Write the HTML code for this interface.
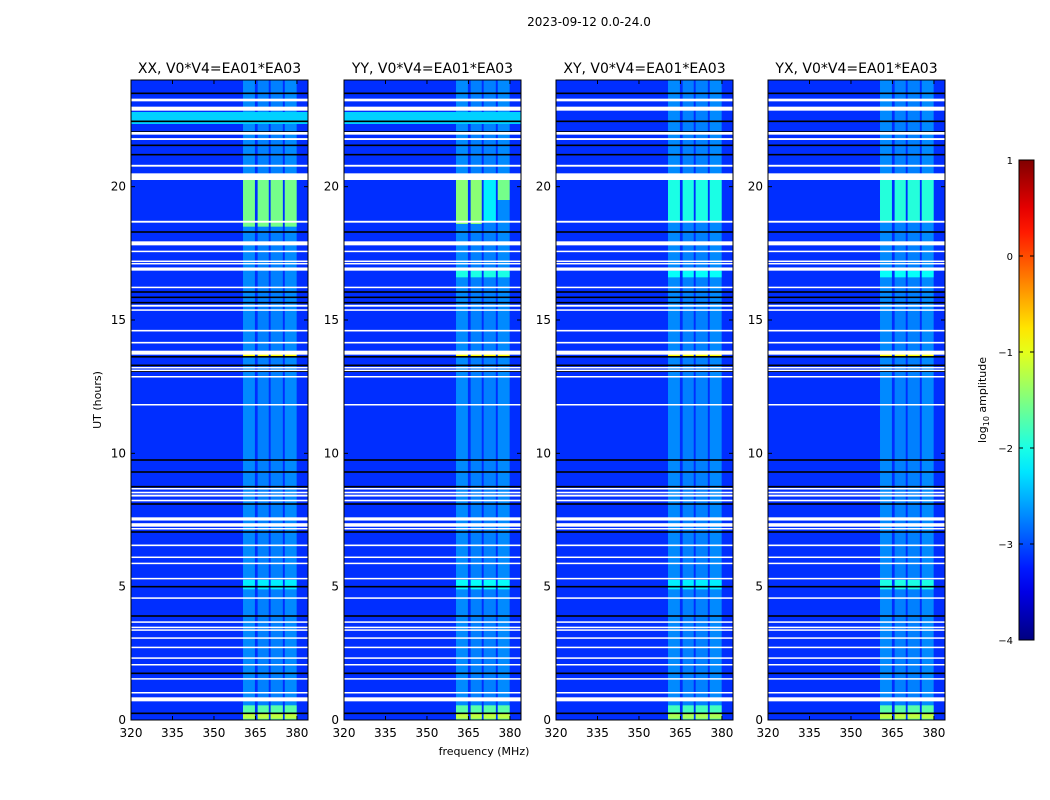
<!DOCTYPE html>
<html><head><meta charset="utf-8"><style>
body{margin:0;background:#fff;width:1050px;height:800px;overflow:hidden;font-family:"DejaVu Sans","Liberation Sans",sans-serif}
svg{display:block}
</style></head><body>
<svg id="fig" width="1050" height="800" xmlns="http://www.w3.org/2000/svg" font-family="DejaVu Sans, Liberation Sans, sans-serif">
<text x="589" y="26" font-size="12" text-anchor="middle">2023-09-12 0.0-24.0</text>
<text x="484" y="755" font-size="11" text-anchor="middle">frequency (MHz)</text>
<text transform="translate(101,400) rotate(-90)" font-size="11" text-anchor="middle">UT (hours)</text>
<text transform="translate(986,400) rotate(-90)" font-size="11" text-anchor="middle">log<tspan font-size="8" dy="3">10</tspan><tspan dy="-3"> amplitude</tspan></text>
</svg>
<script>
const panelTitles = ["XX, V0*V4=EA01*EA03","YY, V0*V4=EA01*EA03","XY, V0*V4=EA01*EA03","YX, V0*V4=EA01*EA03"];
const xTicks = [320,335,350,365,380];
const yTicks = [0,5,10,15,20];
const cbTicks = [1,0,-1,-2,-3,-4];
const freqBands = [[360.5,364.8],[365.8,369.8],[370.5,374.9],[375.6,379.9]];
const bandLevel = [-2.7,-2.75,-2.75,-2.7];
const baseLevel = -3.15;
const whiteGaps = [[23.2,23.3],[22.85,23.0],[21.95,22.05],[21.75,21.82],[20.75,20.82],[20.25,20.5],[18.65,18.72],[17.8,17.95],[17.55,17.6],[17.18,17.23],[17.1,17.14],[16.85,16.97],[16.2,16.25],[15.5,15.57],[15.35,15.4],[14.57,14.63],[14.12,14.18],[13.7,13.85],[13.2,13.24],[13.1,13.14],[12.85,12.9],[11.8,11.85],[8.65,8.7],[8.5,8.56],[8.38,8.45],[8.2,8.26],[7.48,7.6],[7.25,7.38],[7.15,7.2],[6.52,6.58],[6.08,6.13],[5.85,5.9],[5.28,5.33],[4.55,4.6],[3.65,3.7],[3.45,3.5],[3.35,3.4],[3.05,3.1],[2.7,2.75],[2.3,2.35],[2.05,2.1],[1.52,1.57],[1.0,1.05],[0.7,0.85]];
const blackLines = [23.5,22.45,22.05,21.55,21.2,18.3,17.85,16.05,15.85,15.65,13.62,13.3,13.08,9.75,9.3,8.75,8.1,7.05,5.0,3.9,1.75,0.25];
const cyanBand = [[22.35,22.8,-2.35],[22.35,22.8,-2.35],null,null];
// events: [panel, t0, t1, firstBand, lastBand, level]
const events = [
 [0,18.5,20.3,0,3,-1.55],[1,18.6,20.3,0,1,-1.45],[1,19.5,20.3,3,3,-1.55],[1,18.7,20.3,2,2,-2.2],
 [2,18.7,20.3,0,3,-2.0],[3,18.7,20.3,0,3,-1.95],
 [0,13.62,13.72,0,3,-0.9],[1,13.62,13.72,0,3,-0.9],[2,13.62,13.72,0,3,-0.9],[3,13.62,13.72,0,3,-0.9],
 [0,0.0,0.55,0,3,-1.7],[1,0.0,0.55,0,3,-1.7],[2,0.0,0.55,0,3,-1.8],[3,0.0,0.55,0,3,-1.7],
 [0,0.05,0.25,0,3,-1.2],[1,0.05,0.25,0,3,-1.2],[2,0.05,0.25,0,3,-1.3],[3,0.05,0.25,0,3,-1.2],
 [0,4.9,5.25,0,3,-2.2],[1,4.9,5.25,0,3,-2.1],[2,4.9,5.25,0,3,-2.2],[3,4.9,5.25,0,3,-2.0],
 [1,16.6,16.85,0,3,-2.0],[2,16.6,16.85,0,3,-2.1],[3,16.6,16.85,0,3,-2.1]
];
const panelLeft = [131,344,556,768];
const pTop = 80, pH = 640, pW = 177, fMin = 320, fMax = 384, tMax = 24;
const NS = "http://www.w3.org/2000/svg";
const svg = document.getElementById('fig');
function jet(v){const t=Math.max(0,Math.min(1,(v+4)/5));const c=x=>Math.round(255*Math.max(0,Math.min(1,x)));
 return `rgb(${c(1.5-Math.abs(4*t-3))},${c(1.5-Math.abs(4*t-2))},${c(1.5-Math.abs(4*t-1))})`;}
function el(tag,attrs,parent){const e=document.createElementNS(NS,tag);for(const k in attrs)e.setAttribute(k,attrs[k]);(parent||svg).appendChild(e);return e;}
function xS(L,f){return L+(f-fMin)/(fMax-fMin)*pW;}
function yS(t){return pTop+pH-(t/tMax)*pH;}
panelLeft.forEach((L,p)=>{
 const g=el('g',{});
 
 
 const bg=el('rect',{x:L,y:pTop,width:pW,height:pH,fill:jet(baseLevel)},g);
 
 
 freqBands.forEach((b,i)=>{
  const r=el('rect',{x:xS(L,b[0]),y:pTop,width:xS(L,b[1])-xS(L,b[0]),height:pH,fill:jet(bandLevel[i])},g);
  
  
 });
 if(cyanBand[p]){const c=cyanBand[p];
  const r=el('rect',{x:L,y:yS(c[1]),width:pW,height:yS(c[0])-yS(c[1]),fill:jet(c[2])},g);
  
  }
 events.filter(e=>e[0]===p).forEach(e=>{
  for(let i=e[3];i<=e[4];i++){const b=freqBands[i];
   const r=el('rect',{x:xS(L,b[0]),y:yS(e[2]),width:xS(L,b[1])-xS(L,b[0]),height:yS(e[1])-yS(e[2]),fill:jet(e[5])},g);
   
   }
 });
 blackLines.forEach(t=>{
  const r=el('rect',{x:L,y:yS(t)-0.8,width:pW,height:1.6,fill:'#000'},g);
  
  
 });
 whiteGaps.forEach(w=>{
  const r=el('rect',{x:L,y:yS(w[1]),width:pW,height:Math.max(1.5,yS(w[0])-yS(w[1])),fill:'#fff'},g);
  
  
 });
 const fr=el('rect',{x:L,y:pTop,width:pW,height:pH,fill:'none',stroke:'#000','stroke-width':1},g);
 
 
 const tt=el('text',{x:L+pW/2,y:73,'font-size':14,'text-anchor':'middle'},g);tt.textContent=panelTitles[p];
 
 
 xTicks.forEach(f=>{const x=xS(L,f);
  el('line',{x1:x,x2:x,y1:pTop+pH,y2:pTop+pH-4,stroke:'#000'},g);
  el('line',{x1:x,x2:x,y1:pTop,y2:pTop+4,stroke:'#000'},g);
  const t=el('text',{x:x,y:737,'font-size':12,'text-anchor':'middle'},g);t.textContent=f;
  
  
 });
 yTicks.forEach(v=>{const y=yS(v);
  el('line',{x1:L,x2:L+4,y1:y,y2:y,stroke:'#000'},g);
  el('line',{x1:L+pW,x2:L+pW-4,y1:y,y2:y,stroke:'#000'},g);
  const t=el('text',{x:L-5,y:y+4,'font-size':12,'text-anchor':'end'},g);t.textContent=v;
  
  
 });
});
const cbX=1019,cbW=15,cbTop=160,cbH=480;
const defs=el('defs',{});
const grad=el('linearGradient',{id:'jetg',x1:0,y1:1,x2:0,y2:0},defs);
for(let i=0;i<=20;i++){el('stop',{offset:i/20,'stop-color':jet(-4+5*i/20)},grad);}
const cb=el('rect',{x:cbX,y:cbTop,width:cbW,height:cbH,fill:'url(#jetg)',stroke:'#000'});


cbTicks.forEach(v=>{const y=cbTop+(1-v)/5*cbH;
 el('line',{x1:cbX,x2:cbX+4,y1:y,y2:y,stroke:'#000'});
 el('line',{x1:cbX+cbW,x2:cbX+cbW-4,y1:y,y2:y,stroke:'#000'});
 const t=el('text',{x:1013,y:y+4,'font-size':10,'text-anchor':'end'});t.textContent=(v<0?'\u2212':'')+Math.abs(v);
 
 
});
</script>
</body></html>
